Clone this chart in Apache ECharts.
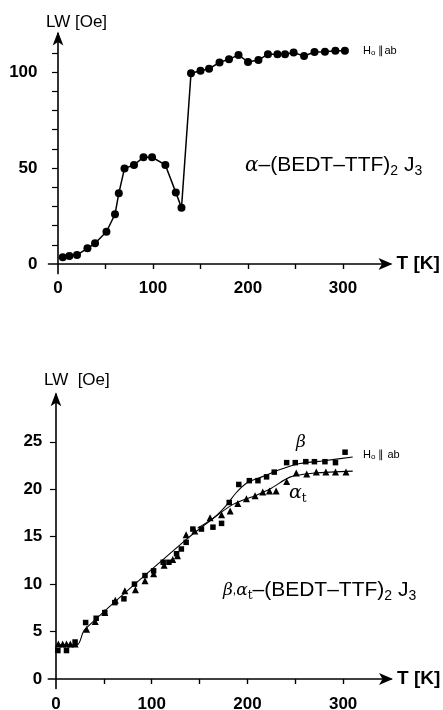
<!DOCTYPE html>
<html>
<head>
<meta charset="utf-8">
<script src="https://cdn.jsdelivr.net/npm/echarts@6/dist/echarts.min.js"></script>
<style>
html,body{margin:0;padding:0;background:#fff;}
#c{width:443px;height:710px;}
</style>
</head>
<body>
<div id="c"></div>
<script>
// ---------- Top panel: alpha-(BEDT-TTF)2 J3 ----------
const topT  = [5, 12, 20, 31, 39, 51, 60, 64, 70, 80, 90, 99, 113, 124, 130, 140, 150, 159, 170, 180, 190, 200, 211, 221, 231, 239, 248, 259, 270, 281, 292, 302];
const topLW = [3.5, 4.2, 4.7, 8.2, 10.8, 16.8, 25.9, 36.8, 49.8, 51.6, 55.6, 55.6, 51.6, 37.3, 29.3, 99.3, 100.7, 101.7, 105, 106.6, 108.9, 105.2, 106.3, 109.2, 109.2, 109.2, 110.1, 108.3, 110.4, 110.6, 111.1, 111.1];

// ---------- Bottom panel: beta and alpha_t ----------
const betaT  = [2, 11, 20, 31, 42, 51, 61.5, 71, 82, 93, 102, 112, 118, 126, 131, 136, 143, 152, 164, 173, 181, 191, 202, 211, 220, 228, 241, 250, 261, 270, 281, 292, 302];
const betaLW = [3.0, 3.0, 3.9, 5.95, 6.4, 7.0, 8.05, 8.45, 10.0, 10.9, 11.4, 12.3, 12.3, 13.2, 13.7, 14.4, 15.8, 15.8, 16.0, 16.4, 18.6, 20.5, 20.9, 20.9, 21.3, 21.8, 22.8, 22.8, 22.9, 22.9, 22.9, 22.8, 23.9];
const alphaT  = [2.5, 7, 11, 15, 20, 32, 41, 51, 62, 72, 83, 93, 102, 113, 122, 127, 136, 145, 161, 173, 182, 190, 199, 208, 216, 223, 230, 241, 251, 262, 272, 282, 292, 303];
const alphaLW = [3.7, 3.7, 3.7, 3.7, 3.7, 5.25, 6.05, 7.0, 8.3, 9.3, 9.4, 10.35, 11.1, 12.0, 12.6, 13.0, 15.2, 15.6, 17.0, 17.3, 17.7, 18.5, 19.0, 19.3, 19.7, 19.8, 19.8, 20.8, 21.7, 21.6, 21.8, 21.8, 21.8, 21.8];

// hand-drawn guide curves
const betaFitT  = [148, 165, 178, 188, 200, 215, 235, 255, 280, 310];
const betaFitLW = [15.9, 17.0, 18.3, 19.6, 20.7, 21.3, 22.1, 22.7, 23.0, 23.4];
const alphaFitT  = [0, 22, 30, 135, 160, 185, 210, 225, 245, 270, 310];
const alphaFitLW = [3.6, 3.6, 5.2, 14.6, 16.6, 18.4, 19.4, 20.1, 21.3, 21.7, 21.9];

const xTickVals = [50, 100, 150, 200, 250, 300];
const xLabelVals = [0, 100, 200, 300];
const topYTicks = [10, 20, 30, 40, 50, 60, 70, 80, 90, 100, 110];
const topYLabels = [0, 50, 100];
const botYTicks = [5, 10, 15, 20, 25];
const botYLabels = [0, 5, 10, 15, 20, 25];

const zip = (a, b) => a.map((v, i) => [v, b[i]]);

const FONT = 'Liberation Sans, Arial, sans-serif';
const axisLineStyle = {color: '#000', width: 1.6};

function xAxisCfg(gridIndex, xmin, labelMargin) {
  return {
    type: 'value', gridIndex, min: xmin, max: 350,
    splitLine: {show: false},
    axisLine: {onZero: true, lineStyle: axisLineStyle, symbol: ['none', 'arrow'], symbolSize: [9, 14], symbolOffset: [0, 2]},
    axisTick: {customValues: xTickVals, length: 5, lineStyle: {color: '#000', width: 1.4}},
    axisLabel: {customValues: xLabelVals, margin: labelMargin, color: '#000', fontFamily: FONT, fontWeight: 'bold', fontSize: 17},
    name: 'T [K]', nameLocation: 'end', nameGap: 6,
    nameTextStyle: {color: '#000', fontFamily: FONT, fontWeight: 'bold', fontSize: 19}
  };
}
function yAxisCfg(gridIndex, ymin, ymax, ticks, labels, labelMargin, name, nameGap) {
  return {
    type: 'value', gridIndex, min: ymin, max: ymax,
    splitLine: {show: false},
    axisLine: {onZero: true, lineStyle: axisLineStyle, symbol: ['none', 'arrow'], symbolSize: [8, 14], symbolOffset: [0, 2]},
    axisTick: {customValues: ticks, length: 6, lineStyle: {color: '#000', width: 1.2}},
    axisLabel: {customValues: labels, margin: labelMargin, color: '#000', fontFamily: FONT, fontWeight: 'bold', fontSize: 17},
    name: name, nameLocation: 'end', nameGap: nameGap,
    nameTextStyle: {color: '#000', fontFamily: FONT, fontSize: 17, align: 'left', padding: [0, 0, 0, -12]}
  };
}

const chart = echarts.init(document.getElementById('c'), null, {renderer: 'canvas'});
chart.setOption({
  backgroundColor: '#fff',
  animation: false,
  grid: [
    {left: 48.5, right: 52.5, top: 33.6, bottom: 436.4, containLabel: false, outerBoundsMode: 'none'},
    {left: 48.3, right: 52, top: 394.3, bottom: 21.5, containLabel: false, outerBoundsMode: 'none'}
  ],
  xAxis: [xAxisCfg(0, -10, 6), xAxisCfg(1, -8, 7)],
  yAxis: [
    yAxisCfg(0, -5, 120, topYTicks, topYLabels, 11, 'LW [Oe]', 3),
    yAxisCfg(1, -1, 30, botYTicks, botYLabels, 6, 'LW  [Oe]', 5)
  ],
  series: [
    {
      type: 'line', xAxisIndex: 0, yAxisIndex: 0,
      data: zip(topT, topLW),
      symbol: 'circle', symbolSize: 8,
      itemStyle: {color: '#000'},
      lineStyle: {color: '#000', width: 1.5}
    },
    {
      type: 'line', xAxisIndex: 1, yAxisIndex: 1,
      data: zip(alphaFitT, alphaFitLW), smooth: 0.3, showSymbol: false,
      lineStyle: {color: '#000', width: 1.1}
    },
    {
      type: 'line', xAxisIndex: 1, yAxisIndex: 1,
      data: zip(betaFitT, betaFitLW), smooth: 0.3, showSymbol: false,
      lineStyle: {color: '#000', width: 1.1}
    },
    {
      type: 'scatter', xAxisIndex: 1, yAxisIndex: 1,
      data: zip(betaT, betaLW),
      symbol: 'rect', symbolSize: 5.5,
      itemStyle: {color: '#000', opacity: 1}
    },
    {
      type: 'scatter', xAxisIndex: 1, yAxisIndex: 1,
      data: zip(alphaT, alphaLW),
      symbol: 'triangle', symbolSize: 7,
      itemStyle: {color: '#000', opacity: 1}
    }
  ],
  graphic: [
    {
      type: 'text', left: 245, top: 155,
      style: {
        text: '{g|α}{a|–(BEDT–TTF)}{s|2}{a| J}{s|3}',
        fill: '#000',
        rich: {
          g: {fontFamily: 'DejaVu Serif', fontStyle: 'italic', fontSize: 20, fill: '#000'},
          a: {fontFamily: FONT, fontSize: 21, fill: '#000'},
          s: {fontFamily: FONT, fontSize: 14, fill: '#000', padding: [12, 0, 0, 0]}
        }
      }
    },
    {
      type: 'text', left: 363, top: 45,
      style: {
        text: '{a|H}{s|o}{a| ∥ab}',
        rich: {
          a: {fontFamily: FONT, fontSize: 11, fill: '#000'},
          s: {fontFamily: FONT, fontSize: 8, fill: '#000', padding: [5, 0, 0, 0]}
        }
      }
    },
    {
      type: 'text', left: 363, top: 449,
      style: {
        text: '{a|H}{s|o}{a| ∥ ab}',
        rich: {
          a: {fontFamily: FONT, fontSize: 11, fill: '#000'},
          s: {fontFamily: FONT, fontSize: 8, fill: '#000', padding: [5, 0, 0, 0]}
        }
      }
    },
    {
      type: 'text', left: 296, top: 434,
      style: {text: 'β', fill: '#000', fontFamily: 'DejaVu Serif', fontStyle: 'italic', fontSize: 17}
    },
    {
      type: 'text', left: 289, top: 484,
      style: {
        text: '{g|α}{s|t}',
        rich: {
          g: {fontFamily: 'DejaVu Serif', fontStyle: 'italic', fontSize: 19, fill: '#000'},
          s: {fontFamily: 'DejaVu Serif', fontSize: 12, fill: '#000', padding: [10, 0, 0, 0]}
        }
      }
    },
    {
      type: 'text', left: 223, top: 580,
      style: {
        text: '{g|β},{g|α}{t|t}{a|–(BEDT–TTF)}{s|2}{a| J}{s|3}',
        fill: '#000',
        rich: {
          g: {fontFamily: 'DejaVu Serif', fontStyle: 'italic', fontSize: 17, fill: '#000'},
          t: {fontFamily: 'DejaVu Serif', fontSize: 12, fill: '#000', padding: [10, 0, 0, 0]},
          a: {fontFamily: FONT, fontSize: 21, fill: '#000'},
          s: {fontFamily: FONT, fontSize: 14, fill: '#000', padding: [12, 0, 0, 0]}
        }
      }
    }
  ]
});
</script>
</body>
</html>
